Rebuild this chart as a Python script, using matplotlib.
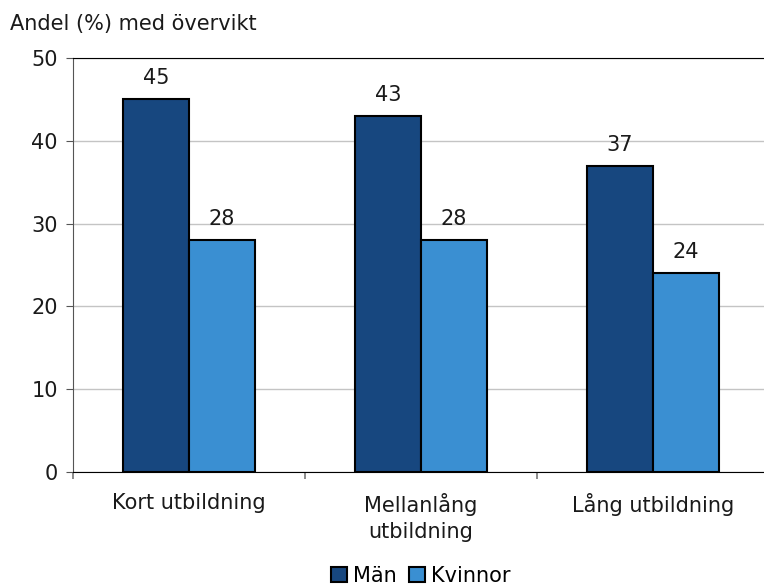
import matplotlib.pyplot as plt
import numpy as np

kategorier = ["Kort utbildning", "Mellanlång\nutbildning", "Lång utbildning"]
man = [45, 43, 37]
kvinnor = [28, 28, 24]

FS = 15

fig = plt.figure(figsize=(7.64, 5.87), dpi=100)
ax = fig.add_axes([73 / 764, 115 / 587, 696 / 764, 414 / 587])

x = np.arange(len(kategorier))
w = 0.284

b1 = ax.bar(x - w / 2, man, w, color="#17477f", edgecolor="black", linewidth=1.5,
            label="Män", zorder=3)
b2 = ax.bar(x + w / 2, kvinnor, w, color="#3a8fd2", edgecolor="black", linewidth=1.5,
            label="Kvinnor", zorder=3)

for bars in (b1, b2):
    for rect in bars:
        ax.annotate(f"{rect.get_height():.0f}",
                    (rect.get_x() + rect.get_width() / 2, rect.get_height()),
                    xytext=(0, 8), textcoords="offset points",
                    ha="center", va="bottom", fontsize=FS, color="#1a1a1a")

ax.set_ylim(0, 50)
ax.set_xlim(-0.5, 2.5)
ax.set_yticks([0, 10, 20, 30, 40, 50])
ax.tick_params(axis="y", labelsize=FS, length=5, color="#555555", pad=6,
               labelcolor="#1a1a1a")
ax.yaxis.grid(True, color="#c4c4c4", linewidth=1, zorder=0)
ax.set_axisbelow(True)

ax.set_xticks(x)
ax.set_xticklabels(kategorier, fontsize=FS, color="#1a1a1a", linespacing=1.4)
ax.tick_params(axis="x", which="major", length=0, pad=15)
ax.set_xticks(np.arange(-0.5, 2.6, 0.5), minor=True)
ax.tick_params(axis="x", which="minor", length=5, color="#777777", width=1.2)

ax.spines["right"].set_visible(False)
ax.spines["left"].set_color("#555555")
ax.spines["top"].set_color("black")
ax.spines["bottom"].set_color("black")

fig.text(10 / 764, 1 - 24 / 587, "Andel (%) med övervikt", fontsize=FS,
         color="#1a1a1a", va="center", ha="left")

leg = fig.legend(handles=[b1, b2], loc="center", bbox_to_anchor=(421 / 764, 1 - 576 / 587),
                 ncol=2, frameon=False, fontsize=FS, handlelength=0.75, handleheight=0.75,
                 handletextpad=0.3, columnspacing=0.6)

plt.savefig("out.png", dpi=100)
